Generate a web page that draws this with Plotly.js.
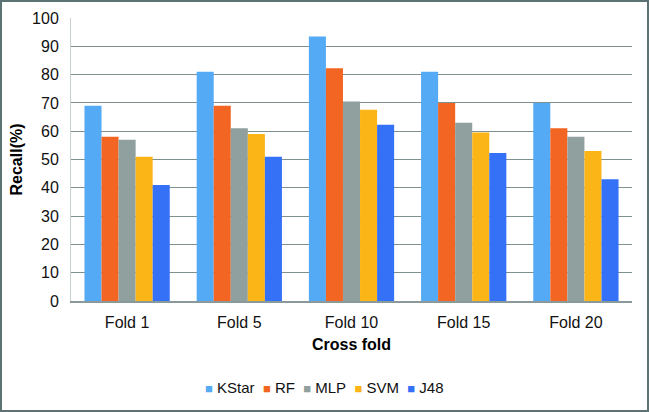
<!DOCTYPE html>
<html><head><meta charset="utf-8">
<script src="https://cdn.plot.ly/plotly-3.0.1.min.js"></script>
<style>
html,body{margin:0;padding:0;background:#fff;}
#frame{width:649px;height:412px;box-sizing:border-box;border:2px solid #5d7373;}
#chart{width:645px;height:408px;}
</style></head>
<body><div id="frame"><div id="chart"></div></div>
<script>
var categories = ["Fold 1", "Fold 5", "Fold 10", "Fold 15", "Fold 20"];
var seriesNames = ["KStar", "RF", "MLP", "SVM", "J48"];
var kstar = [69, 81, 93.5, 81, 70];
var rf = [58, 69, 82.2, 70, 61];
var mlp = [57, 61, 70.5, 63, 58];
var svm = [51, 59, 67.6, 59.5, 53];
var j48 = [41, 51, 62.3, 52.3, 43];
var yTicks = [0, 10, 20, 30, 40, 50, 60, 70, 80, 90, 100];
var colors = ["#55aaf5", "#f26522", "#8fa09e", "#fbb516", "#3471f6"];

var values = [kstar, rf, mlp, svm, j48];
var traces = seriesNames.map(function(n, i){
  return {type:"bar", name:n, x:categories, y:values[i], marker:{color:colors[i]}, hoverinfo:"none"};
});
var legendText = seriesNames.map(function(n, i){
  return '<span style="color:' + colors[i] + ';font-size:13px">\u25A0</span> ' + n;
}).join('\u00a0 ');
var font = "Liberation Sans, Arial, Helvetica, sans-serif";
var layout = {
  width:645, height:408,
  margin:{l:69, r:15, t:16, b:109},
  paper_bgcolor:"#fff", plot_bgcolor:"#fff",
  barmode:"group", bargap:0.24, bargroupgap:0,
  font:{family:font, size:16, color:"#111"},
  showlegend:false,
  annotations:[{xref:"paper", yref:"paper", x:0.451, y:-0.304, xanchor:"center", yanchor:"middle",
    showarrow:false, text:legendText, font:{size:15, color:"#111"}}],
  xaxis:{type:"category", tickfont:{size:16}, ticks:"", showline:true, linecolor:"#8a9a9a", linewidth:1.5,
         ticklabelstandoff:6,
         title:{text:"Cross fold", font:{size:16, weight:"bold", color:"#000"}, standoff:9}},
  yaxis:{range:[0,100], tickvals:yTicks, ticks:"", tickfont:{size:16},
         showgrid:true, gridcolor:"#7f9090", gridwidth:1, zeroline:false,
         showline:true, linecolor:"#c8d0d0", linewidth:1, ticklabelstandoff:8,
         title:{text:"Recall(%)", font:{size:16, weight:"bold", color:"#000"}, standoff:5}}
};
Plotly.newPlot("chart", traces, layout, {displayModeBar:false, staticPlot:true});
</script></body></html>
